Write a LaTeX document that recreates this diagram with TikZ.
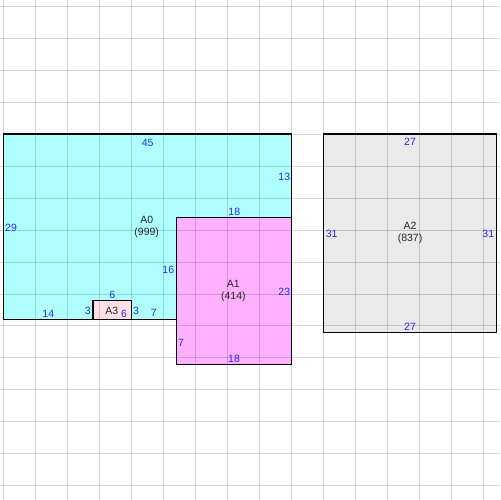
\documentclass[tikz,border=0pt]{standalone}
\usepackage{fontspec}
\setmainfont{Liberation Sans}
\definecolor{fillzero}{RGB}{176,255,255}
\definecolor{fillone}{RGB}{255,176,255}
\definecolor{filltwo}{RGB}{234,234,234}
\definecolor{fillthree}{RGB}{255,224,230}
\definecolor{lblblue}{RGB}{40,40,240}
\begin{document}
\begin{tikzpicture}[x=6.4pt, y=-6.4pt,
        gridline/.style = {black, opacity=0.17, line width=1pt},
        border/.style = {black, line width=1.2pt},
        sizelbl/.style = {text=lblblue, inner sep=0pt, font=\fontsize{10.5}{12.5}\selectfont},
        arealbl/.style = {text=black!85, inner sep=0pt, align=center, font=\fontsize{10.5}{12.5}\selectfont}]
        \useasboundingbox (-0.52, -0.94) rectangle (77.61, 77.19);

        \fill[fillzero] (0, 20) rectangle (45, 49);
        \fill[filltwo] (50, 20) rectangle (77, 51);
        \fill[fillone] (27, 33) rectangle (45, 56);
        \fill[fillthree] (14, 46) rectangle (20, 49);

        \foreach \g in {0, 5, ..., 75} {
            \draw[gridline] (\g, -0.94) -- (\g, 77.19);
            \draw[gridline] (-0.52, \g) -- (77.61, \g);
        }

        \draw[border] (27, 49) -- (0, 49) -- (0, 20) -- (45, 20) -- (45, 33);
        \draw[border] (50, 20) rectangle (77, 51);
        \draw[border] (27, 33) rectangle (45, 56);
        \draw[border] (14, 46) rectangle (20, 49);

        \node[arealbl] (a0) at (22.4, 34.53) {A0\\(999)};
        \node[sizelbl] (a0top) at (22.56, 21.36) {45};
        \node[sizelbl] (a0left) at (1.2, 34.64) {29};
        \node[sizelbl] (a0right) at (43.9, 26.77) {13};
        \node[sizelbl] (a0inner) at (25.78, 41.3) {16};
        \node[sizelbl] (a0bota) at (7.03, 48.17) {14};
        \node[sizelbl] (a0botb) at (23.5, 48.02) {7};

        \node[arealbl] (a1) at (35.94, 44.56) {A1\\(414)};
        \node[sizelbl] (a1top) at (36.09, 32.14) {18};
        \node[sizelbl] (a1right) at (43.9, 44.73) {23};
        \node[sizelbl] (a1left) at (27.77, 52.66) {7};
        \node[sizelbl] (a1bot) at (36.05, 55.16) {18};

        \node[arealbl] (a2) at (63.55, 35.47) {A2\\(837)};
        \node[sizelbl] (a2top) at (63.55, 21.25) {27};
        \node[sizelbl] (a2left) at (51.3, 35.63) {31};
        \node[sizelbl] (a2right) at (75.78, 35.63) {31};
        \node[sizelbl] (a2bot) at (63.55, 50.16) {27};

        \node[arealbl] (a3) at (16.94, 47.66) {A3};
        \node[sizelbl] (a3top) at (17.03, 45.11) {6};
        \node[sizelbl] (a3left) at (13.19, 47.66) {3};
        \node[sizelbl] (a3right) at (20.73, 47.66) {3};
        \node[sizelbl] (a3bot) at (18.86, 48.13) {6};
    \end{tikzpicture}
\end{document}
